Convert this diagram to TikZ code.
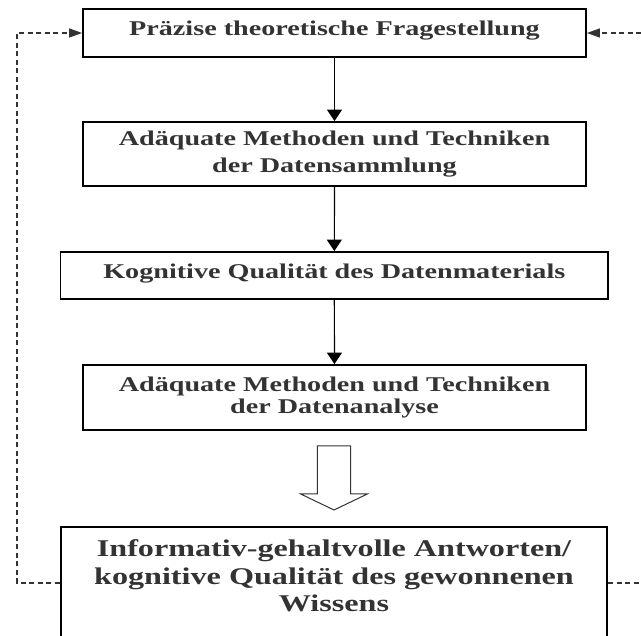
\documentclass[tikz,border=0pt]{standalone}
\usepackage{fontspec}
\setmainfont[FakeStretch=1.34]{Liberation Serif}
\usetikzlibrary{arrows.meta}
\usetikzlibrary{positioning}
\definecolor{schrift}{HTML}{333333}

\tikzset{
  kasten/.style={draw=black, line width=1.8pt, minimum width=503pt, inner sep=0pt,
    align=center, text=schrift, font=\bfseries\fontsize{21}{27}\selectfont},
  pfeil/.style={line width=1.2pt, -{Triangle[length=11.5pt,width=15pt]}},
  rueck/.style={schrift, line width=1.2pt, dash pattern=on 5pt off 3.5pt,
    -{Triangle[length=13pt,width=9pt]}},
}

\begin{document}
\begin{tikzpicture}[x=1pt, y=-1pt]
\useasboundingbox (0,0) rectangle (641,636);
\clip (0,0) rectangle (641,636);
\node[kasten, minimum height=48pt, text depth=9pt] (frage) at (334.5,33) {Präzise theoretische Fragestellung};
\node[kasten, minimum height=64pt] (sammlung) at (334.5,154) {Adäquate Methoden und Techniken\\der Datensammlung};
\node[kasten, minimum width=547.5pt, minimum height=47pt, text depth=9pt] (material) at (334.3,275.5) {Kognitive Qualität des Datenmaterials};
\node[kasten, minimum height=65pt, font=\bfseries\fontsize{21}{22}\selectfont] (analyse) at (334.5,397.5) {Adäquate Methoden und Techniken\\der Datenanalyse};
\node[kasten, minimum width=546.5pt, minimum height=150pt] (wissen) at (334,602) {};
\node[text=schrift, align=center, inner sep=0pt, font=\bfseries\fontsize{24}{27.5}\selectfont,
  below=13.4pt of wissen.north] (wissentext) {Informativ-gehaltvolle Antworten/\\kognitive Qualität des gewonnenen\\Wissens};

\draw[pfeil] (frage) -- (sammlung);
\draw[pfeil] (sammlung) -- (material);
\draw[pfeil] (material) -- (analyse);

% hollow block arrow
\draw[schrift, line width=1pt, fill=white] (317.3,446) -- (350.7,446) -- (350.7,494) -- (367.3,494)
  -- (334,510) -- (300.7,494) -- (317.3,494) -- cycle;

% feedback
\coordinate (lu) at (17,583);
\coordinate (ru) at (660,583);
\draw[rueck] (lu -| wissen.west) -- (lu) |- (frage.west);
\draw[rueck] (ru -| wissen.east) -- (ru) |- (frage.east);
\end{tikzpicture}
\end{document}
